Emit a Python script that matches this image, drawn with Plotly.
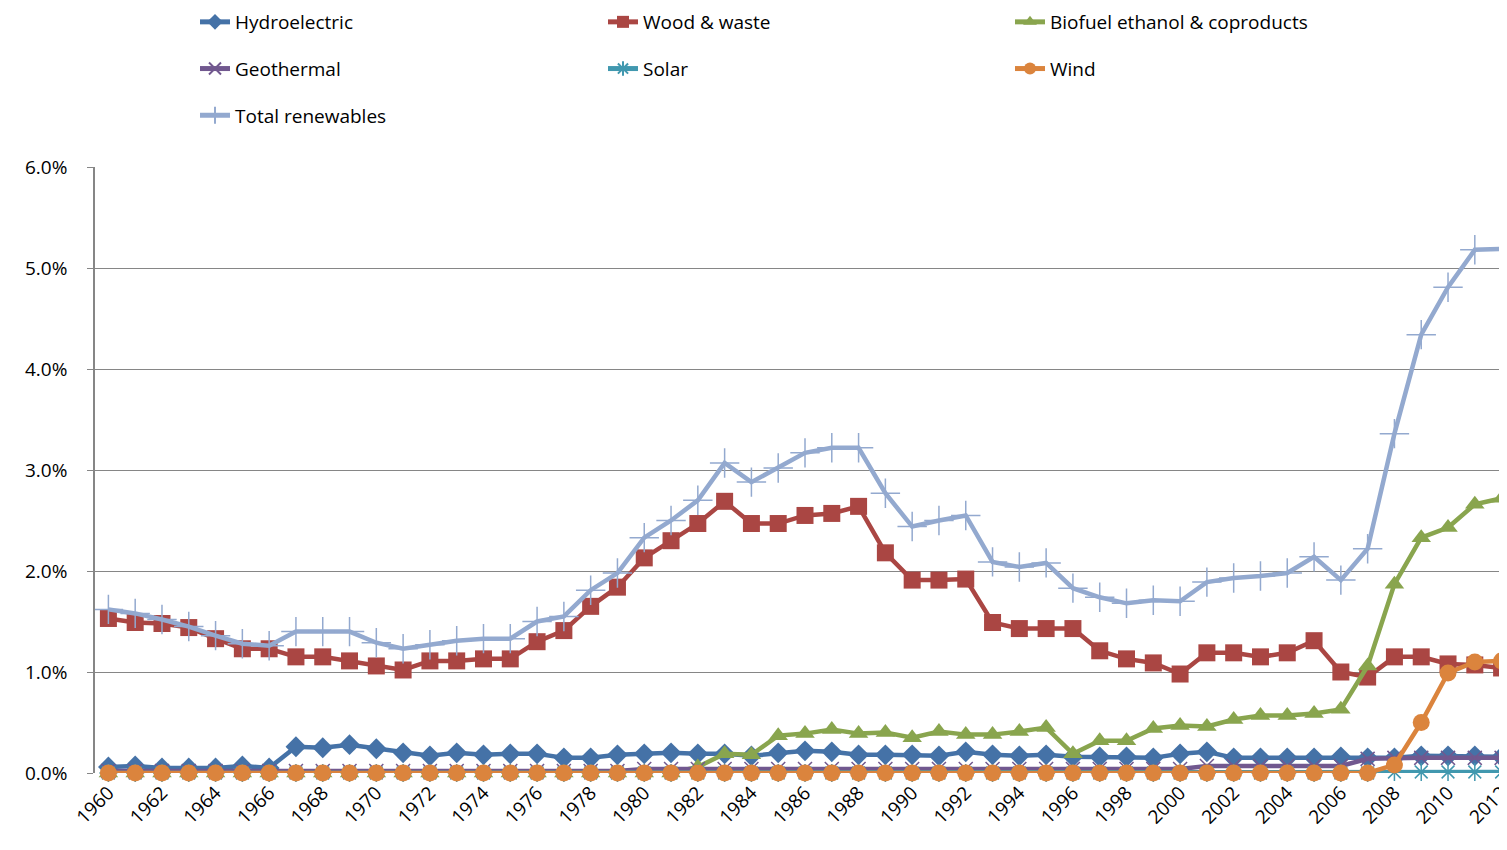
import plotly.graph_objects as go

years = list(range(1960, 2013))

hydroelectric = [0.06, 0.07, 0.05, 0.05, 0.05, 0.07, 0.05, 0.26, 0.25, 0.28, 0.24, 0.20,
                 0.17, 0.20, 0.18, 0.19, 0.19, 0.15, 0.15, 0.18, 0.19, 0.20, 0.19, 0.19,
                 0.17, 0.20, 0.22, 0.21, 0.18, 0.18, 0.18, 0.17, 0.21, 0.18, 0.17, 0.18,
                 0.16, 0.16, 0.16, 0.15, 0.19, 0.21, 0.15, 0.15, 0.15, 0.15, 0.16, 0.15,
                 0.15, 0.17, 0.17, 0.17, 0.16]

wood_waste = [1.53, 1.49, 1.48, 1.44, 1.33, 1.23, 1.23, 1.15, 1.15, 1.11, 1.06, 1.02,
              1.11, 1.11, 1.13, 1.13, 1.30, 1.41, 1.65, 1.84, 2.13, 2.30, 2.47, 2.69,
              2.47, 2.47, 2.55, 2.57, 2.64, 2.18, 1.91, 1.91, 1.92, 1.49, 1.43, 1.43,
              1.43, 1.21, 1.13, 1.09, 0.98, 1.19, 1.19, 1.15, 1.19, 1.31, 1.00, 0.95,
              1.15, 1.15, 1.08, 1.07, 1.04]

biofuel = [0.0] * 22 + [0.06, 0.19, 0.18, 0.37, 0.39, 0.43, 0.39, 0.40, 0.35, 0.41,
                        0.38, 0.38, 0.41, 0.45, 0.19, 0.32, 0.32, 0.44, 0.47, 0.46,
                        0.53, 0.57, 0.57, 0.59, 0.63, 1.06, 1.87, 2.33, 2.43, 2.66, 2.72]

geothermal = [0.02] * 20 + [0.04] * 21 + [0.07] * 6 + [0.14, 0.15, 0.15, 0.15, 0.15, 0.15]

solar = [0.0] * 48 + [0.01, 0.01, 0.01, 0.01, 0.01]

wind = [0.0] * 48 + [0.08, 0.50, 0.99, 1.10, 1.11]

total_renewables = [1.62, 1.58, 1.52, 1.45, 1.36, 1.28, 1.26, 1.40, 1.40, 1.40, 1.29, 1.23,
                    1.27, 1.31, 1.33, 1.33, 1.50, 1.55, 1.81, 1.98, 2.33, 2.50, 2.70, 3.07,
                    2.88, 3.02, 3.17, 3.22, 3.22, 2.77, 2.44, 2.50, 2.55, 2.09, 2.04, 2.08,
                    1.83, 1.74, 1.68, 1.71, 1.70, 1.89, 1.93, 1.95, 1.98, 2.14, 1.91, 2.22,
                    3.36, 4.34, 4.81, 5.18, 5.19]

x_tick_labels = [str(y) for y in range(1960, 2013, 2)]
y_tick_values = [0, 0.01, 0.02, 0.03, 0.04, 0.05, 0.06]

FONT = "Open Sans"

series = [
    ("Hydroelectric", hydroelectric, "#4572A7", dict(symbol="diamond", size=16), "legend"),
    ("Wood & waste", wood_waste, "#AA4643", dict(symbol="square", size=17), "legend2"),
    ("Biofuel ethanol & coproducts", biofuel, "#89A54E", dict(symbol="triangle-up", size=17), "legend3"),
    ("Geothermal", geothermal, "#71588F", dict(symbol="x-thin", size=14, line=dict(width=1.5, color="#71588F")), "legend"),
    ("Solar", solar, "#4198AF", dict(symbol="asterisk", size=15, line=dict(width=1.5, color="#4198AF")), "legend2"),
    ("Wind", wind, "#DB843D", dict(symbol="circle", size=17), "legend3"),
    ("Total renewables", total_renewables, "#93A9CF", dict(symbol="cross-thin", size=21, line=dict(width=1.5, color="#93A9CF")), "legend"),
]

fig = go.Figure()
for name, vals, color, marker, leg in series:
    m = dict(color=color)
    m.update(marker)
    fig.add_trace(go.Scatter(
        x=years, y=[v / 100 for v in vals], name=name, mode="lines+markers",
        line=dict(color=color, width=4.5), marker=m, legend=leg, legendgroup=name,
        cliponaxis=False,
    ))

MT, MB = 159, 85
plot_h = 850 - MT - MB

legend_common = dict(
    orientation="v", xref="container", yref="paper", xanchor="left", yanchor="top",
    font=dict(family=FONT, size=19, color="#000000"), tracegroupgap=19,
    bgcolor="rgba(0,0,0,0)", itemclick=False, itemdoubleclick=False,
    itemsizing="constant",
)
y_leg = 1 + (MT + 5) / plot_h

fig.update_layout(
    width=1507, height=850,
    margin=dict(l=87, r=0, t=MT, b=MB, autoexpand=False),
    paper_bgcolor="white", plot_bgcolor="white",
    font=dict(family=FONT, size=18, color="#000000"),
    legend=dict(x=187 / 1507, y=y_leg, **legend_common),
    legend2=dict(x=595 / 1507, y=y_leg, **legend_common),
    legend3=dict(x=1002 / 1507, y=y_leg, **legend_common),
    xaxis=dict(
        range=[1959.5, 2012.5], tickmode="array",
        tickvals=list(range(1960, 2013, 2)), ticktext=x_tick_labels,
        tickangle=-45, showgrid=False, zeroline=False, showline=False,
        tickfont=dict(family=FONT, size=19, color="#000000"), ticks="",
        ticklabelstandoff=4,
    ),
    yaxis=dict(
        range=[0, 0.06], tickmode="array", tickvals=y_tick_values, tickformat=".1%",
        showgrid=True, gridcolor="#868686", gridwidth=1, zeroline=False,
        showline=True, linecolor="#868686", linewidth=1.5,
        ticks="outside", ticklen=6, tickcolor="#868686",
        tickfont=dict(family=FONT, size=19, color="#000000"),
        ticklabelstandoff=16,
    ),
)

fig.write_html("out.html")
